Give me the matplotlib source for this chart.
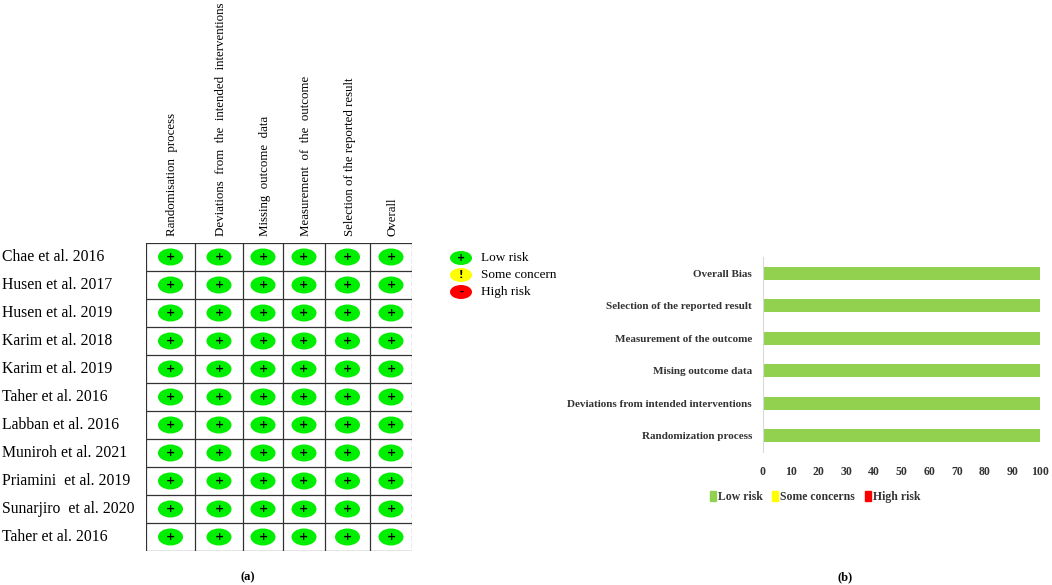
import matplotlib
matplotlib.use('Agg')
import matplotlib.pyplot as plt
from matplotlib.patches import Ellipse, Rectangle

plt.rcParams['font.family'] = ['Liberation Serif', 'DejaVu Serif']

studies = ['Chae et al. 2016', 'Husen et al. 2017', 'Husen et al. 2019', 'Karim et al. 2018',
           'Karim et al. 2019', 'Taher et al. 2016', 'Labban et al. 2016', 'Muniroh et al. 2021',
           'Priamini  et al. 2019', 'Sunarjiro  et al. 2020', 'Taher et al. 2016']
domains = ['Randomisation  process', 'Deviations  from  the  intended  interventions',
           'Missing  outcome  data', 'Measurement  of  the  outcome',
           'Selection of the reported result', 'Overall']
# every judgement is low risk
judgements = [['+'] * 6 for _ in studies]

risk_labels = ['Low risk', 'Some concern', 'High risk']
risk_colors = ['#00ee00', '#ffff00', '#ff0000']
risk_signs = ['+', '!', '-']

summary_domains = ['Randomization process', 'Deviations from intended interventions',
                   'Mising outcome data', 'Measurement of the outcome',
                   'Selection of the reported result', 'Overall Bias']
low_pct = [100, 100, 100, 100, 100, 100]
some_pct = [0, 0, 0, 0, 0, 0]
high_pct = [0, 0, 0, 0, 0, 0]
summary_legend = ['Low risk', 'Some concerns', 'High risk']
summary_colors = ['#92d050', '#ffff00', '#ff0000']

W, H = 1052, 585
fig = plt.figure(figsize=(W / 100, H / 100), dpi=100)

# ---- (a) traffic light grid, drawn in pixel units ----
col_edges = [146, 195, 243, 283, 325, 370, 412]
top, row_h = 243, 28
bottom = top + row_h * len(studies)
ax1 = fig.add_axes([146 / W, 1 - bottom / H, (412 - 146) / W, (bottom - top) / H])
ax1.set_xlim(146, 412)
ax1.set_ylim(bottom, top)
ax1.axis('off')

for x in col_edges[:-1]:
    ax1.plot([x, x], [top, bottom], color='#333333', lw=0.9)
ax1.plot([412, 412], [top, bottom], color='#555555', lw=0.9, ls=(0, (4, 2)))
for i in range(len(studies) + 1):
    y = top + i * row_h
    ax1.plot([146, 412], [y, y], color='#333333', lw=0.9)

centers = [(col_edges[j] + col_edges[j + 1]) / 2 for j in range(6)]
for i, study in enumerate(studies):
    yc = top + (i + 0.5) * row_h
    fig.text(2 / W, 1 - yc / H, study, fontsize=11.3, va='center', ha='left')
    for j, sign in enumerate(judgements[i]):
        k = risk_signs.index(sign)
        ax1.add_patch(Ellipse((centers[j], yc), 25, 17, color=risk_colors[k], lw=0))
        ax1.text(centers[j], yc, sign, ha='center', va='center', fontsize=8,
                 fontweight='bold', family='DejaVu Sans')

for j, d in enumerate(domains):
    fig.text((centers[j] + 2) / W, 1 - 236 / H, d, rotation=90, ha='center', va='bottom',
             fontsize=9.3)

for k, lab in enumerate(risk_labels):
    yk = 258 + k * 17
    fig.patches.append(Ellipse((461 / W, 1 - yk / H), 22 / W, 14 / H, color=risk_colors[k],
                               transform=fig.transFigure, lw=0))
    fig.text(461 / W, 1 - yk / H, risk_signs[k], ha='center', va='center', fontsize=7,
             fontweight='bold', family='DejaVu Sans')
    fig.text(481 / W, 1 - yk / H, lab, ha='left', va='center', fontsize=9.5)

fig.text(248 / W, 1 - 577 / H, '(a)', ha='center', va='center', fontsize=9, fontweight='bold')

# ---- (b) summary bar chart ----
ax2 = fig.add_axes([763 / W, 1 - 452 / H, (1040 - 763) / W, (452 - 257) / H])
ypos = list(range(len(summary_domains)))
ax2.barh(ypos, low_pct, height=0.4, color=summary_colors[0], label=summary_legend[0])
ax2.barh(ypos, some_pct, left=low_pct, height=0.4, color=summary_colors[1], label=summary_legend[1])
ax2.barh(ypos, high_pct, left=[a + b for a, b in zip(low_pct, some_pct)], height=0.4,
         color=summary_colors[2], label=summary_legend[2])
ax2.set_xlim(0, 100)
ax2.set_ylim(-0.5, 5.5)
ax2.set_xticks(range(0, 101, 10))
ax2.set_yticks(ypos)
ax2.set_yticklabels(summary_domains, fontsize=8, fontweight='bold', color='#333333')
for t in ax2.get_xticklabels():
    t.set_fontsize(8.5)
    t.set_fontweight('bold')
    t.set_color('#333333')
ax2.tick_params(length=0, pad=10)
ax2.tick_params(axis='y', pad=8)
for s in ['top', 'right', 'bottom']:
    ax2.spines[s].set_visible(False)
ax2.spines['left'].set_color('#d9d9d9')

handles = [Rectangle((0, 0), 1, 1, color=c) for c in summary_colors]
fig.legend(handles, summary_legend, loc='center', bbox_to_anchor=(815 / W, 1 - 497 / H),
           ncol=3, frameon=False, handlelength=0.5, handleheight=0.9, handletextpad=0.2,
           columnspacing=0.8, prop={'size': 8.5, 'weight': 'bold'}, labelcolor='#333333')

fig.text(845 / W, 1 - 577 / H, '(b)', ha='center', va='center', fontsize=9, fontweight='bold')

fig.savefig('out.png', dpi=100)
